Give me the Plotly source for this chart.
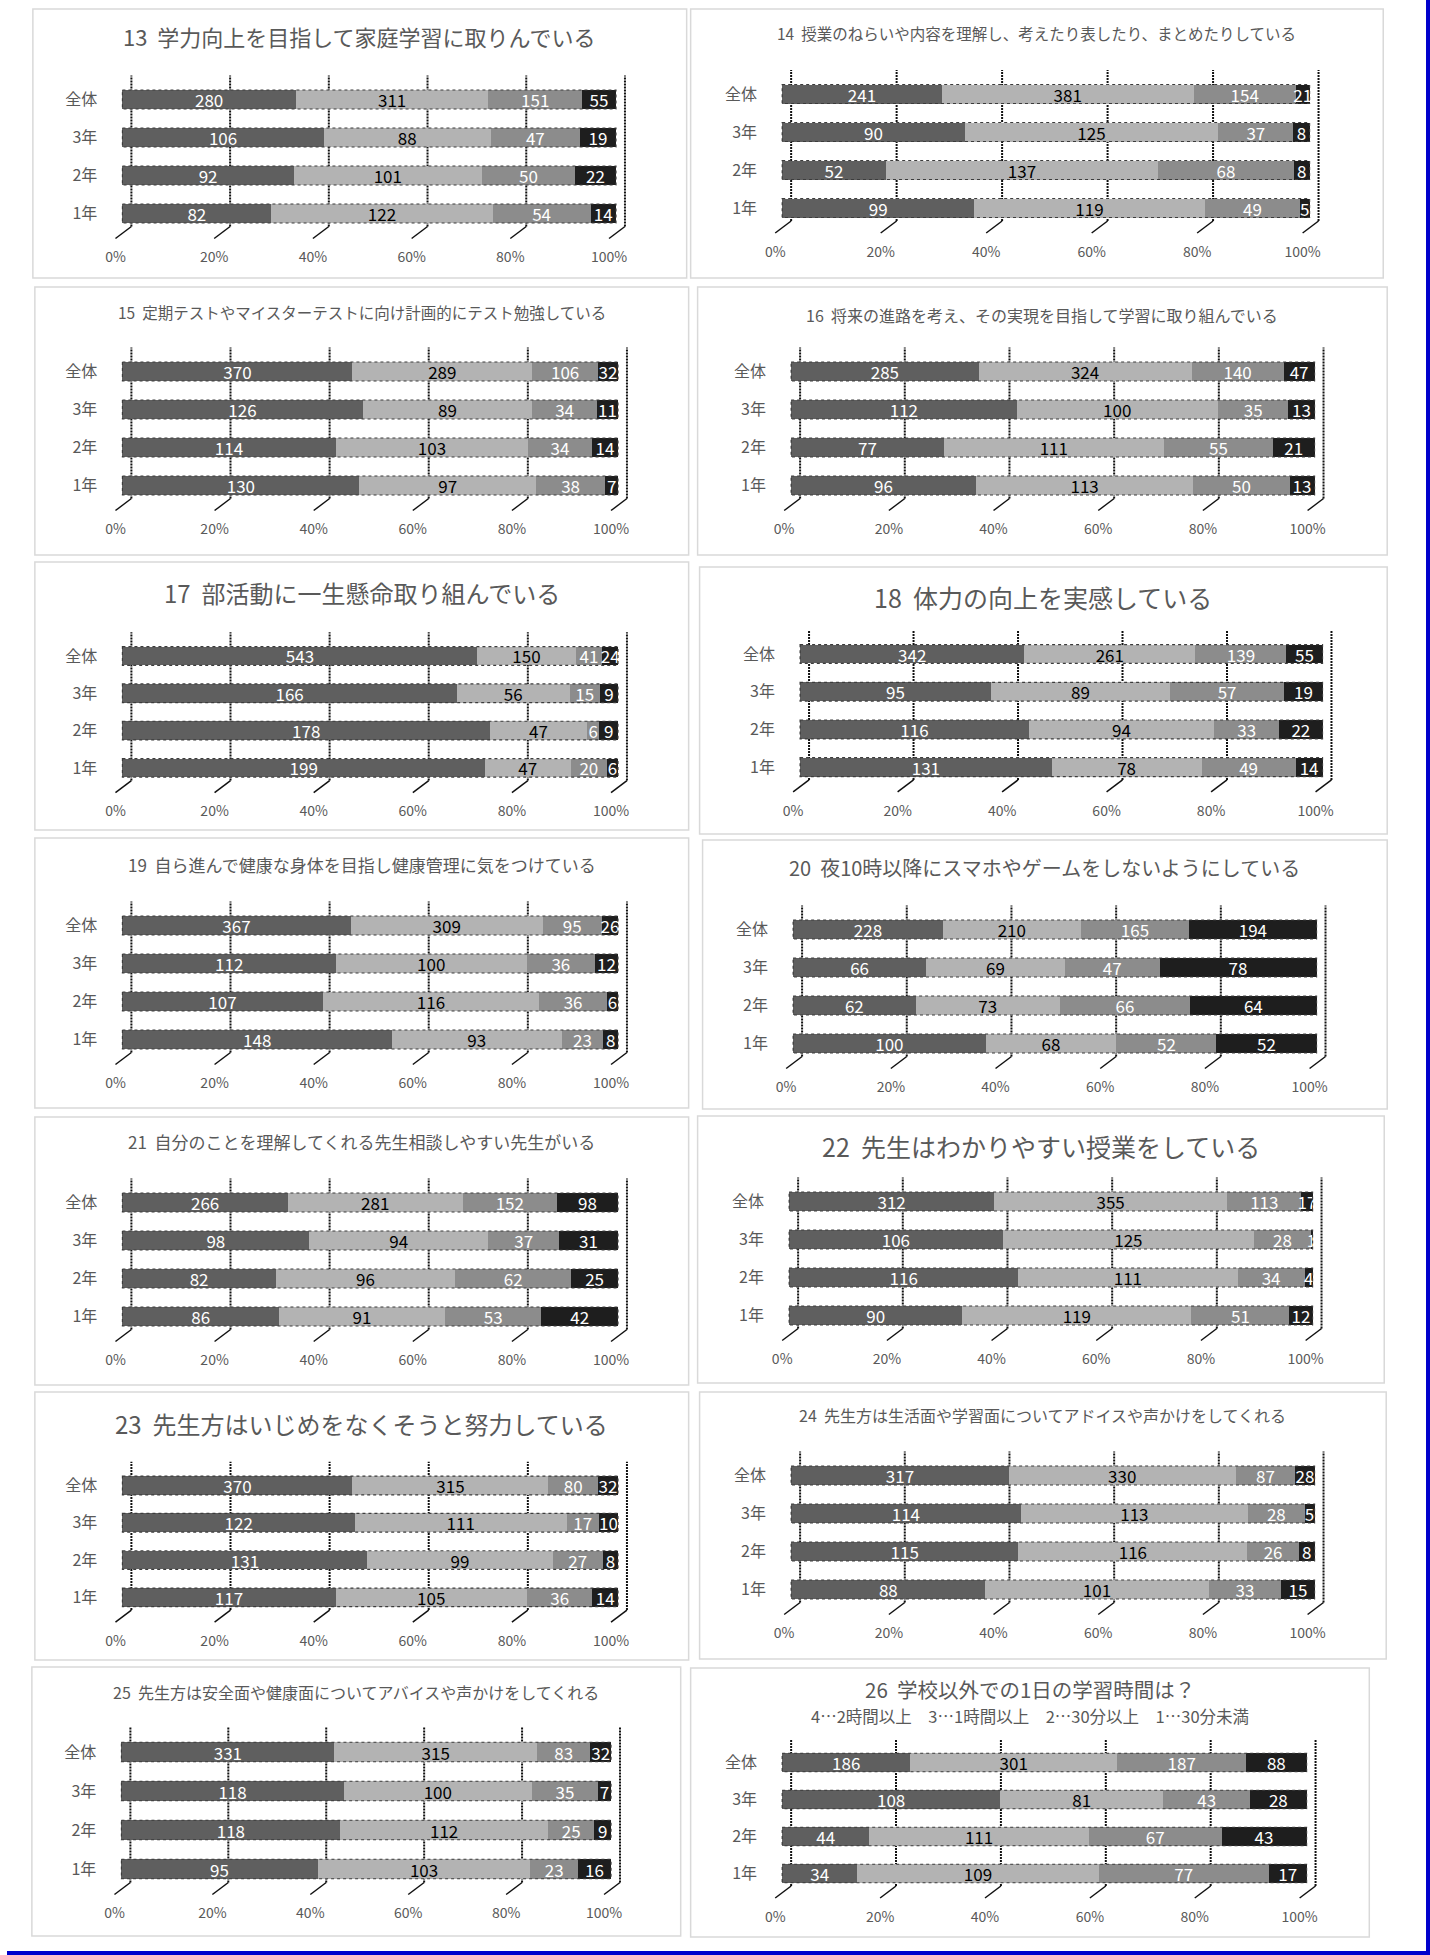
import plotly.graph_objects as go

W, H = 1430, 1955
FONT = "Noto Sans CJK JP"

categories = ["全体", "3年", "2年", "1年"]
tick_values = [0, 0.2, 0.4, 0.6, 0.8, 1.0]
tick_labels = ["0%", "20%", "40%", "60%", "80%", "100%"]
series_colors = ["#5f5f5f", "#b3b3b3", "#8c8c8c", "#1e1e1e"]
text_colors = ["#ffffff", "#000000", "#ffffff", "#ffffff"]

titles = [
    "13  学力向上を目指して家庭学習に取りんでいる",
    "14  授業のねらいや内容を理解し、考えたり表したり、まとめたりしている",
    "15  定期テストやマイスターテストに向け計画的にテスト勉強している",
    "16  将来の進路を考え、その実現を目指して学習に取り組んでいる",
    "17  部活動に一生懸命取り組んでいる",
    "18  体力の向上を実感している",
    "19  自ら進んで健康な身体を目指し健康管理に気をつけている",
    "20  夜10時以降にスマホやゲームをしないようにしている",
    "21  自分のことを理解してくれる先生相談しやすい先生がいる",
    "22  先生はわかりやすい授業をしている",
    "23  先生方はいじめをなくそうと努力している",
    "24  先生方は生活面や学習面についてアドイスや声かけをしてくれる",
    "25  先生方は安全面や健康面についてアバイスや声かけをしてくれる",
    "26  学校以外での1日の学習時間は？<br>4…2時間以上　3…1時間以上　2…30分以上　1…30分未満",
]

# rows: 全体, 3年, 2年, 1年 ; columns: the four answer levels
q13 = [[280, 311, 151, 55], [106, 88, 47, 19], [92, 101, 50, 22], [82, 122, 54, 14]]
q14 = [[241, 381, 154, 21], [90, 125, 37, 8], [52, 137, 68, 8], [99, 119, 49, 5]]
q15 = [[370, 289, 106, 32], [126, 89, 34, 11], [114, 103, 34, 14], [130, 97, 38, 7]]
q16 = [[285, 324, 140, 47], [112, 100, 35, 13], [77, 111, 55, 21], [96, 113, 50, 13]]
q17 = [[543, 150, 41, 24], [166, 56, 15, 9], [178, 47, 6, 9], [199, 47, 20, 6]]
q18 = [[342, 261, 139, 55], [95, 89, 57, 19], [116, 94, 33, 22], [131, 78, 49, 14]]
q19 = [[367, 309, 95, 26], [112, 100, 36, 12], [107, 116, 36, 6], [148, 93, 23, 8]]
q20 = [[228, 210, 165, 194], [66, 69, 47, 78], [62, 73, 66, 64], [100, 68, 52, 52]]
q21 = [[266, 281, 152, 98], [98, 94, 37, 31], [82, 96, 62, 25], [86, 91, 53, 42]]
q22 = [[312, 355, 113, 17], [106, 125, 28, 1], [116, 111, 34, 4], [90, 119, 51, 12]]
q23 = [[370, 315, 80, 32], [122, 111, 17, 10], [131, 99, 27, 8], [117, 105, 36, 14]]
q24 = [[317, 330, 87, 28], [114, 113, 28, 5], [115, 116, 26, 8], [88, 101, 33, 15]]
q25 = [[331, 315, 83, 32], [118, 100, 35, 7], [118, 112, 25, 9], [95, 103, 23, 16]]
q26 = [[186, 301, 187, 88], [108, 81, 43, 28], [44, 111, 67, 43], [34, 109, 77, 17]]

panel_values = [q13, q14, q15, q16, q17, q18, q19, q20, q21, q22, q23, q24, q25, q26]

# layout in pixels: box (x0, x1, y0, y1), bar 0% px, bar 100% px, first bar centre y, row pitch,
# title line y positions, title line font sizes
panel_layout = [
    ((26, 683, 9, 278), 116, 612, 99.5, 38, [36], [22]),
    ((687, 1383, 9, 278), 779, 1309, 94, 38, [33], [15.5]),
    ((28, 685, 287, 555), 116, 614, 371.5, 38, [312], [15.5]),
    ((694, 1387, 287, 555), 788, 1314, 371.5, 38, [315], [16]),
    ((28, 685, 562, 830), 116, 614, 656, 37.3, [592], [24]),
    ((696, 1387, 567, 834), 797, 1322, 654, 37.7, [597], [25]),
    ((28, 685, 838, 1108), 116, 614, 925.5, 38, [864], [17]),
    ((699, 1387, 840, 1109), 790, 1316, 929.5, 38, [867], [20]),
    ((28, 685, 1117, 1385), 116, 614, 1202.5, 38, [1141], [17]),
    ((694, 1384, 1116, 1383), 786, 1312, 1201.5, 38, [1146], [25]),
    ((28, 685, 1392, 1660), 116, 614, 1485.5, 37.3, [1423], [24]),
    ((696, 1386, 1392, 1659), 788, 1314, 1475.5, 38, [1415], [16]),
    ((25, 677, 1667, 1936), 115, 607, 1752, 39, [1692], [16]),
    ((687, 1369, 1668, 1937), 779, 1306, 1762.5, 37, [1689, 1716], [20.5, 16.5]),
]

A_LO, A_HI = -0.02, 1.03
DG, DL = 9, 7  # back-wall grid offset / floor label offset in px
BAR_W = 0.5


def px_x(p):
    return p / W


def px_y(p):
    return 1 - p / H


fig = go.Figure()
shapes = []
annotations = []
layout_axes = {}

for i, (title, vals, lay) in enumerate(zip(titles, panel_values, panel_layout)):
    n = i + 1
    xa = "x" if n == 1 else f"x{n}"
    ya = "y" if n == 1 else f"y{n}"
    xl = f"x{n + 14}"
    (bx0, bx1, by0, by1), b0, b1, tc, pitch, tys, tsizes = lay
    s = b1 - b0
    top_px = tc - pitch / 2
    bot_px = top_px + 4 * pitch

    for k in range(4):
        col = [row[k] for row in vals]
        fig.add_trace(go.Bar(
            orientation="h", y=categories, x=col, text=col,
            texttemplate="%{text}", textposition="inside",
            insidetextanchor="middle", textangle=0, constraintext="none",
            textfont=dict(size=17, color=text_colors[k], family=FONT),
            marker=dict(color=series_colors[k], line=dict(width=0)),
            width=BAR_W, xaxis=xa, yaxis=ya, hoverinfo="skip", showlegend=False,
        ))
    fig.add_trace(go.Scatter(
        x=tick_values, y=[categories[0]] * len(tick_values), mode="markers",
        marker=dict(opacity=0), xaxis=xl, yaxis=ya, hoverinfo="skip", showlegend=False,
    ))

    dl = DL / s
    dg = DG / s
    kx = "xaxis" if n == 1 else f"xaxis{n}"
    ky = "yaxis" if n == 1 else f"yaxis{n}"
    layout_axes[kx] = dict(
        domain=[px_x(b0 + A_LO * s), px_x(b0 + A_HI * s)], range=[A_LO, A_HI],
        anchor=ya, showgrid=False, zeroline=False, showticklabels=False,
        showline=False, fixedrange=True,
    )
    layout_axes[f"xaxis{n + 14}"] = dict(
        overlaying=xa, anchor=ya, side="bottom", range=[A_LO + dl, A_HI + dl],
        tickvals=tick_values, ticktext=tick_labels, showgrid=False, zeroline=False,
        showline=False, ticks="outside", ticklen=12, tickcolor="rgba(0,0,0,0)",
        tickfont=dict(size=14, color="#595959", family=FONT), fixedrange=True,
    )
    layout_axes[ky] = dict(
        domain=[px_y(bot_px), px_y(top_px)], anchor=xa, type="category",
        categoryorder="array", categoryarray=categories, range=[3.5, -0.5],
        showgrid=False, zeroline=False, showline=False, ticks="outside",
        ticklen=max(1, 21 + A_LO * s), tickcolor="rgba(0,0,0,0)",
        tickfont=dict(size=16, color="#595959", family=FONT), fixedrange=True,
    )

    # panel frame
    shapes.append(dict(type="rect", xref="paper", yref="paper",
                       x0=px_x(bx0), x1=px_x(bx1), y0=px_y(by1), y1=px_y(by0),
                       line=dict(color="#d9d9d9", width=1.5), fillcolor="rgba(0,0,0,0)",
                       layer="below"))
    # back-wall grid lines and slanted floor ticks
    for v in tick_values:
        shapes.append(dict(type="line", xref=xa, yref="paper", x0=v + dg, x1=v + dg,
                           y0=px_y(bot_px - 6), y1=px_y(top_px - 5),
                           line=dict(color="#111111", width=2, dash="2px,1px"), layer="below"))
        shapes.append(dict(type="line", xref=xa, yref="paper", x0=v - dl, x1=v + dg,
                           y0=px_y(bot_px + 6), y1=px_y(bot_px - 6),
                           line=dict(color="#111111", width=1.5), layer="below"))
    # dotted 3D-style outline of each full (100%) bar
    for ci in range(len(categories)):
        shapes.append(dict(type="rect", xref=xa, yref=ya, x0=0, x1=1,
                           y0=ci - BAR_W / 2, y1=ci + BAR_W / 2,
                           line=dict(color="#3c3c3c", width=1.2, dash="dot"),
                           fillcolor="rgba(0,0,0,0)", layer="above"))

    for line_text, ty, tsize in zip(title.split("<br>"), tys, tsizes):
        annotations.append(dict(
            text=line_text, xref="paper", yref="paper", x=px_x((bx0 + bx1) / 2), y=px_y(ty),
            xanchor="center", yanchor="middle", showarrow=False,
            font=dict(size=tsize, color="#595959", family=FONT),
        ))

# blue page border (right and bottom)
shapes.append(dict(type="line", xref="paper", yref="paper", x0=px_x(W - 2), x1=px_x(W - 2),
                   y0=0, y1=1, line=dict(color="#0000cc", width=4)))
shapes.append(dict(type="line", xref="paper", yref="paper", x0=0, x1=1,
                   y0=px_y(H - 2), y1=px_y(H - 2), line=dict(color="#0000cc", width=4)))

fig.update_layout(
    width=W, height=H, margin=dict(l=0, r=0, t=0, b=0),
    paper_bgcolor="#ffffff", plot_bgcolor="rgba(0,0,0,0)",
    barmode="stack", barnorm="fraction", showlegend=False,
    font=dict(family=FONT, color="#595959"),
    shapes=shapes, annotations=annotations, **layout_axes,
)

fig.write_html(
    "out.html",
    config={"displayModeBar": False},
    post_script="document.body.style.margin='0';document.body.style.padding='0';",
)
